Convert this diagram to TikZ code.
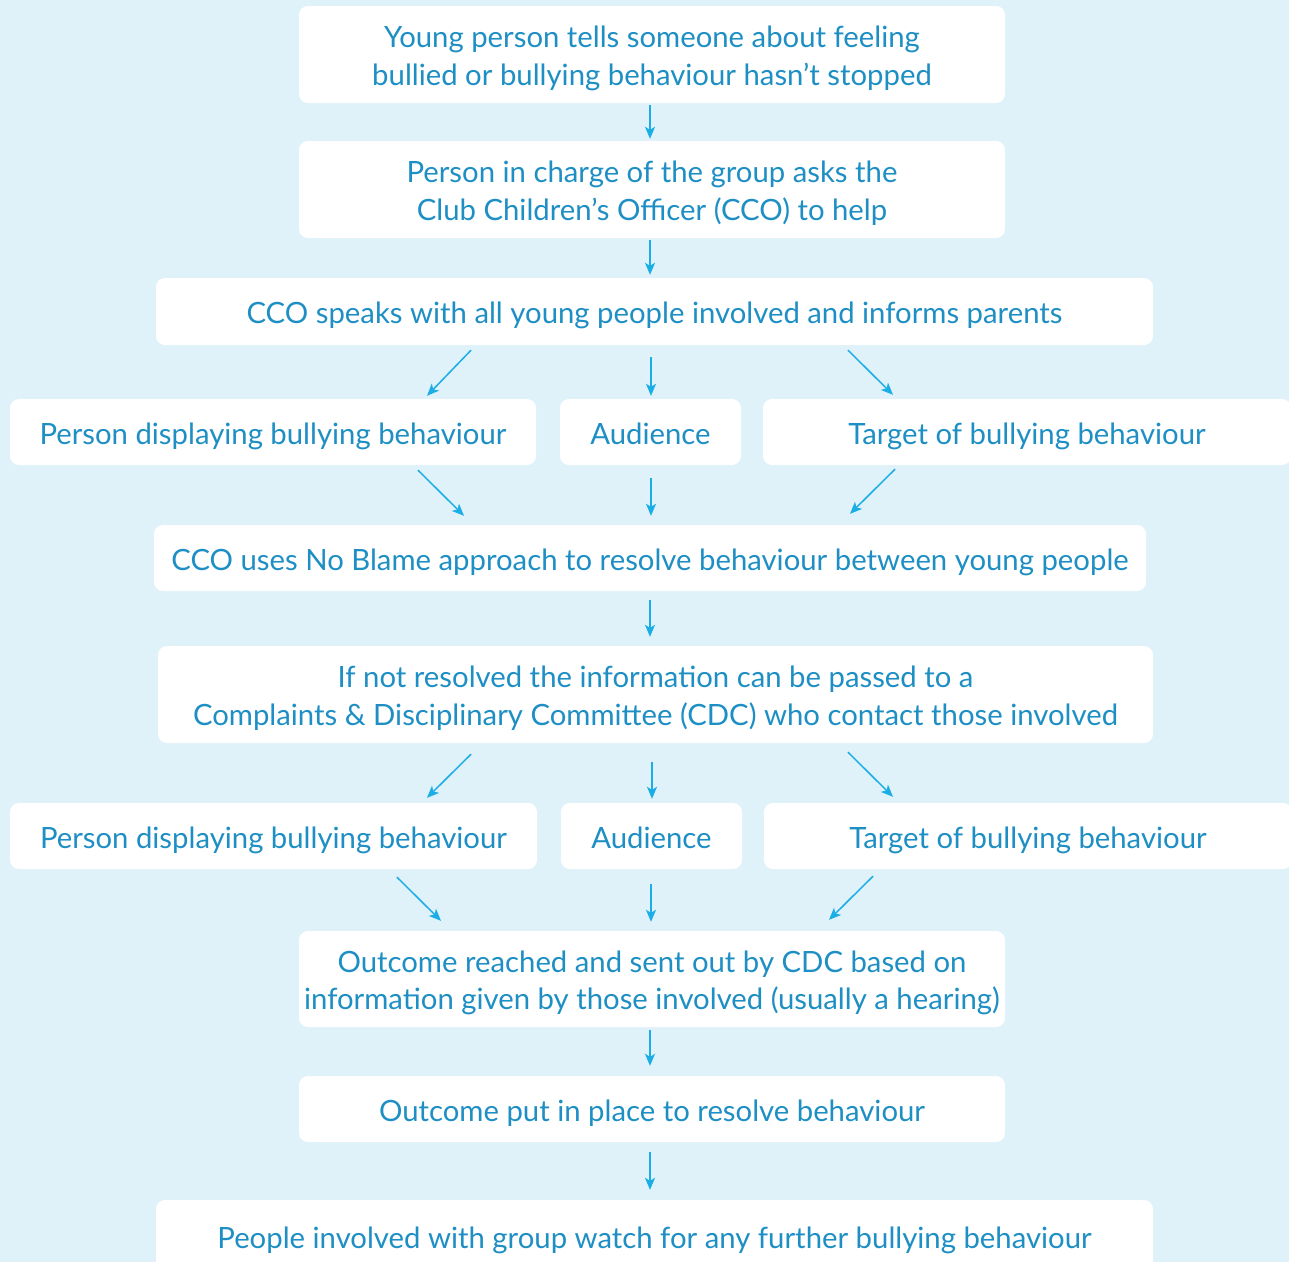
\documentclass[tikz,border=0pt]{standalone}
\usepackage{fontspec}
\setmainfont{Lato}
\usetikzlibrary{arrows.meta}
\definecolor{bgc}{HTML}{DFF1F9}
\definecolor{txc}{HTML}{1E8FC4}
\definecolor{arc}{HTML}{1AADE6}
\tikzset{
  box/.style={draw=none, fill=white, rounded corners=9pt, inner sep=0pt},
  txt/.style={align=center, inner sep=0pt, text=txc, yshift=-4pt,
    font=\fontsize{29.3}{37.5}\selectfont,
    execute at begin node={\vphantom{Ayg}}, execute at end node={\vphantom{Ayg}}},
  arr/.style={draw=arc, line width=1.5pt, -{Stealth[length=12pt,width=10pt,inset=3pt]}}
}
\begin{document}
\begin{tikzpicture}[x=1pt,y=-1pt]
\useasboundingbox (0,0) rectangle (1289,1262);
\clip (0,0) rectangle (1289,1262);
\fill[bgc] (0,0) rectangle (1289,1262);
\node[box, minimum width=706, minimum height=97, label={[txt]center:{Young person tells someone about feeling\\bullied or bullying behaviour hasn’t stopped}}] (b1) at (652,54.5) {};
\node[box, minimum width=706, minimum height=97, label={[txt]center:{Person in charge of the group asks the\\Club Children’s Officer (CCO) to help}}] (b2) at (652,189.5) {};
\node[box, minimum width=997, minimum height=67, label={[txt]center:{CCO speaks with all young people involved and informs parents}}] (b3) at (654.5,311.5) {};
\node[box, minimum width=526, minimum height=66, label={[txt]center:{Person displaying bullying behaviour}}] (l1) at (273,432) {};
\node[box, minimum width=181, minimum height=66, label={[txt]center:{Audience}}] (m1) at (650.5,432) {};
\node[box, minimum width=528, minimum height=66, label={[txt]center:{Target of bullying behaviour}}] (r1) at (1027,432) {};
\node[box, minimum width=992, minimum height=66, label={[txt]center:{CCO uses No Blame approach to resolve behaviour between young people}}] (b5) at (650,558) {};
\node[box, minimum width=995, minimum height=97, label={[txt]center:{If not resolved the information can be passed to a\\Complaints \& Disciplinary Committee (CDC) who contact those involved}}] (b6) at (655.5,694.5) {};
\node[box, minimum width=527, minimum height=66, label={[txt]center:{Person displaying bullying behaviour}}] (l2) at (273.5,836) {};
\node[box, minimum width=181, minimum height=66, label={[txt]center:{Audience}}] (m2) at (651.5,836) {};
\node[box, minimum width=528, minimum height=66, label={[txt]center:{Target of bullying behaviour}}] (r2) at (1028,836) {};
\node[box, minimum width=706, minimum height=96, label={[txt]center:{Outcome reached and sent out by CDC based on\\information given by those involved (usually a hearing)}}] (b8) at (652,979) {};
\node[box, minimum width=706, minimum height=66, label={[txt]center:{Outcome put in place to resolve behaviour}}] (b9) at (652,1109) {};
\node[box, minimum width=997, minimum height=72, label={[txt]center:{People involved with group watch for any further bullying behaviour}}] (b10) at (654.5,1236) {};
% arrows
\draw[arr] ([shift={(-2,2)}]b1.south) -- ([shift={(-2,-2)}]b2.north);
\draw[arr] ([shift={(-2,2)}]b2.south) -- ([shift={(-4.5,-3)}]b3.north);
\draw[arr] ([shift={(-183.5,5)}]b3.south) -- ([shift={(154,-3)}]l1.north);
\draw[arr] ([shift={(-3.5,12)}]b3.south) -- ([shift={(0.5,-3)}]m1.north);
\draw[arr] ([shift={(193.5,5)}]b3.south) -- ([shift={(-134,-4)}]r1.north);
\draw[arr] ([shift={(145,5)}]l1.south) -- ([shift={(-186,-9)}]b5.north);
\draw[arr] ([shift={(0.5,13)}]m1.south) -- ([shift={(1,-9)}]b5.north);
\draw[arr] ([shift={(-132,4)}]r1.south) -- ([shift={(200,-11)}]b5.north);
\draw[arr] ([shift={(0,9)}]b5.south) -- ([shift={(-5.5,-9)}]b6.north);
\draw[arr] ([shift={(-184.5,11)}]b6.south) -- ([shift={(153.5,-5)}]l2.north);
\draw[arr] ([shift={(-3.5,19)}]b6.south) -- ([shift={(0.5,-4)}]m2.north);
\draw[arr] ([shift={(192.5,9)}]b6.south) -- ([shift={(-135,-6)}]r2.north);
\draw[arr] ([shift={(123.5,8)}]l2.south) -- ([shift={(-211,-10)}]b8.north);
\draw[arr] ([shift={(-0.5,15)}]m2.south) -- ([shift={(-1,-9)}]b8.north);
\draw[arr] ([shift={(-155,7)}]r2.south) -- ([shift={(177,-11)}]b8.north);
\draw[arr] ([shift={(-2,3)}]b8.south) -- ([shift={(-2,-10)}]b9.north);
\draw[arr] ([shift={(-2,10)}]b9.south) -- ([shift={(-4.5,-10)}]b10.north);
\end{tikzpicture}
\end{document}
